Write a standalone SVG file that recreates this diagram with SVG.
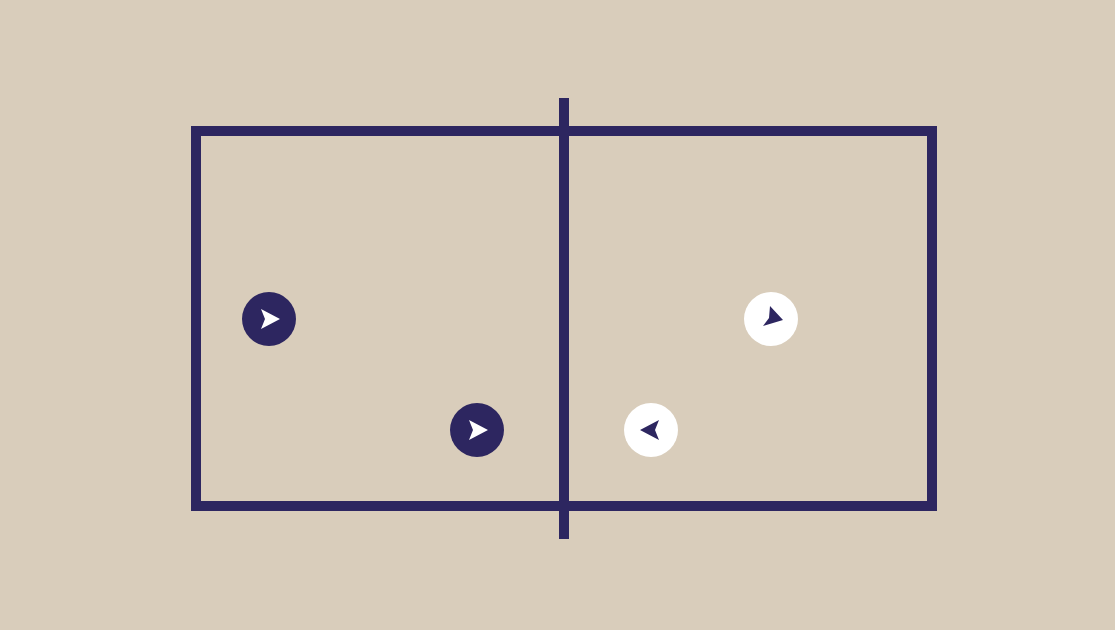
<svg xmlns="http://www.w3.org/2000/svg" width="1115" height="630" viewBox="0 0 1115 630">
  <style>
    .line { stroke: #2d2660; stroke-width: 10; fill: none; }
    .team-a { fill: #2d2660; }
    .team-a-arrow { fill: #ffffff; }
    .team-b { fill: #ffffff; }
    .team-b-arrow { fill: #2d2660; }
  </style>
  <defs>
    <path id="arrow" d="M11,0 L-8,-10 L-4,0 L-8,10 Z"/>
  </defs>
  <rect x="0" y="0" width="1115" height="630" fill="#d9cdbb"/>
  <g id="connectors">
    <rect id="court" class="line" x="196" y="131" width="736" height="375"/>
    <line id="net" class="line" x1="564" y1="98" x2="564" y2="539"/>
  </g>
  <g id="player-a1" transform="translate(269,319)">
    <circle class="team-a" r="27"/>
    <use href="#arrow" class="team-a-arrow"/>
  </g>
  <g id="player-a2" transform="translate(477,430)">
    <circle class="team-a" r="27"/>
    <use href="#arrow" class="team-a-arrow"/>
  </g>
  <g id="player-b1" transform="translate(771,319)">
    <circle class="team-b" r="27"/>
    <path class="team-b-arrow" d="M12,1 L-1,-13 L-2,-1 L-8,7 Z"/>
  </g>
  <g id="player-b2" transform="translate(651,430)">
    <circle class="team-b" r="27"/>
    <use href="#arrow" class="team-b-arrow" transform="scale(-1,1)"/>
  </g>
</svg>
